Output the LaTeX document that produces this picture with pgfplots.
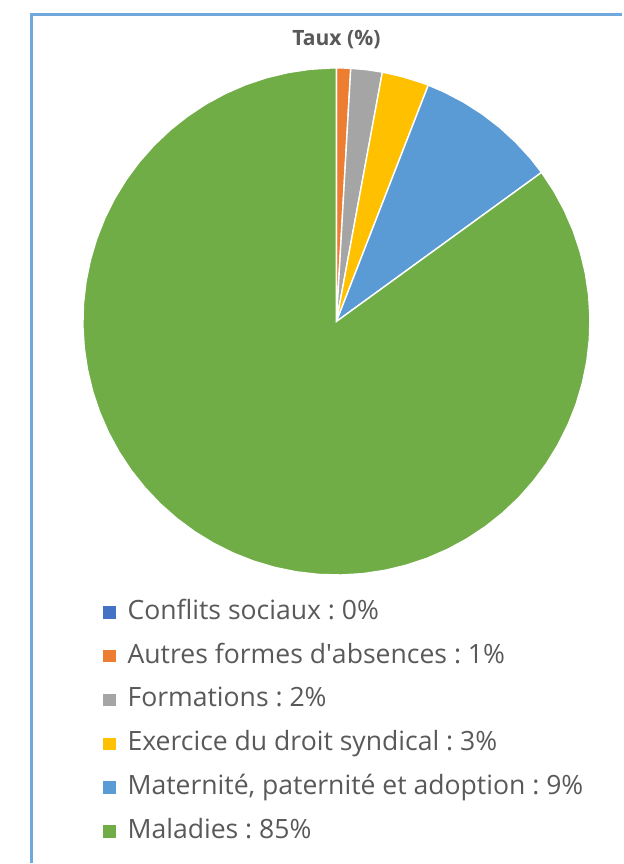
\documentclass[border=0pt]{standalone}
\usepackage{fontspec}
\setmainfont{Open Sans}
\usepackage{pgfplots}
\pgfplotsset{compat=1.18}
\usepgfplotslibrary{polar}

\definecolor{cBlue}{HTML}{4472C4}
\definecolor{cOrange}{HTML}{ED7D31}
\definecolor{cGray}{HTML}{A5A5A5}
\definecolor{cYellow}{HTML}{FFC000}
\definecolor{cLBlue}{HTML}{5B9BD5}
\definecolor{cGreen}{HTML}{70AD47}
\definecolor{cText}{HTML}{595959}
\definecolor{cFrame}{HTML}{6FA8DC}

\pgfplotsset{squarelegend/.style={legend image code/.code={%
  \fill[##1,draw=none] (0bp,-3.2bp) rectangle (6.4bp,3.2bp);
  \path (11bp,0bp);}}}

\begin{document}
\frenchspacing
\begin{tikzpicture}
% page in reference pixels (1 px = 0.5 bp)
\begin{scope}[x=0.5bp,y=-0.5bp]
  \path (0,0) rectangle (623,864);
  \draw[cFrame, line width=1.5bp] (623,15) -- (32,15) -- (32,864);
  \node[font=\bfseries\fontsize{10.6}{12}\selectfont, text=cText] at (337,40) {Taux (\%)};
\end{scope}

% slices: Conflits 0, Autres 0.9, Formations 2.0, Exercice 3.0, Maternite 9.1, Maladies 85.0 (%)
% clockwise from 12 o'clock, angle = 90 - 3.6*cumulative
\begin{polaraxis}[
  at={(168.5bp,-161bp)}, anchor=center,
  scale only axis, width=254bp, height=254bp,
  ymin=0, ymax=1,
  hide axis, clip=false,
  every axis plot/.append style={draw=white, line width=0.7bp},
  squarelegend,
  legend style={draw=none, fill=none,
    at={(0.027,-0.035)}, anchor=north west,
    font=\fontsize{13.35}{15}\selectfont, text=cText,
    row sep=7bp, cells={anchor=west},
    nodes={inner sep=1bp, text height=10bp, text depth=3bp}},
  legend cell align=left,
]
\addplot[fill=cBlue] coordinates {(0,0) (90,1) (90,1)} -- cycle;
\addlegendentry{Conflits sociaux : 0\%}
\addplot[fill=cOrange] coordinates {(0,0) (90,1) (88.4,1) (86.76,1)} -- cycle;
\addlegendentry{Autres formes d\textquotesingle absences : 1\%}
\addplot[fill=cGray] coordinates {(0,0) (86.76,1) (83,1) (79.56,1)} -- cycle;
\addlegendentry{Formations : 2\%}
\addplot[fill=cYellow] coordinates {(0,0) (79.56,1) (75,1) (70,1) (68.76,1)} -- cycle;
\addlegendentry{Exercice du droit syndical : 3\%}
\addplot[fill=cLBlue] coordinates {(0,0) (68.76,1) (65,1) (60,1) (55,1) (50,1) (45,1) (40,1) (36,1)} -- cycle;
\addlegendentry{Maternité, paternité et adoption : 9\%}
\addplot[fill=cGreen] coordinates {(0,0) (36,1) (31,1) (26,1) (21,1) (16,1) (11,1) (6,1) (1,1)
  (-4,1) (-9,1) (-14,1) (-19,1) (-24,1) (-29,1) (-34,1) (-39,1) (-44,1) (-49,1) (-54,1)
  (-59,1) (-64,1) (-69,1) (-74,1) (-79,1) (-84,1) (-89,1) (-94,1) (-99,1) (-104,1)
  (-109,1) (-114,1) (-119,1) (-124,1) (-129,1) (-134,1) (-139,1) (-144,1) (-149,1)
  (-154,1) (-159,1) (-164,1) (-169,1) (-174,1) (-179,1) (-184,1) (-189,1) (-194,1)
  (-199,1) (-204,1) (-209,1) (-214,1) (-219,1) (-224,1) (-229,1) (-234,1) (-239,1)
  (-244,1) (-249,1) (-254,1) (-259,1) (-264,1) (-269,1) (-270,1)} -- cycle;
\addlegendentry{Maladies : 85\%}
\end{polaraxis}
\end{tikzpicture}
\end{document}
